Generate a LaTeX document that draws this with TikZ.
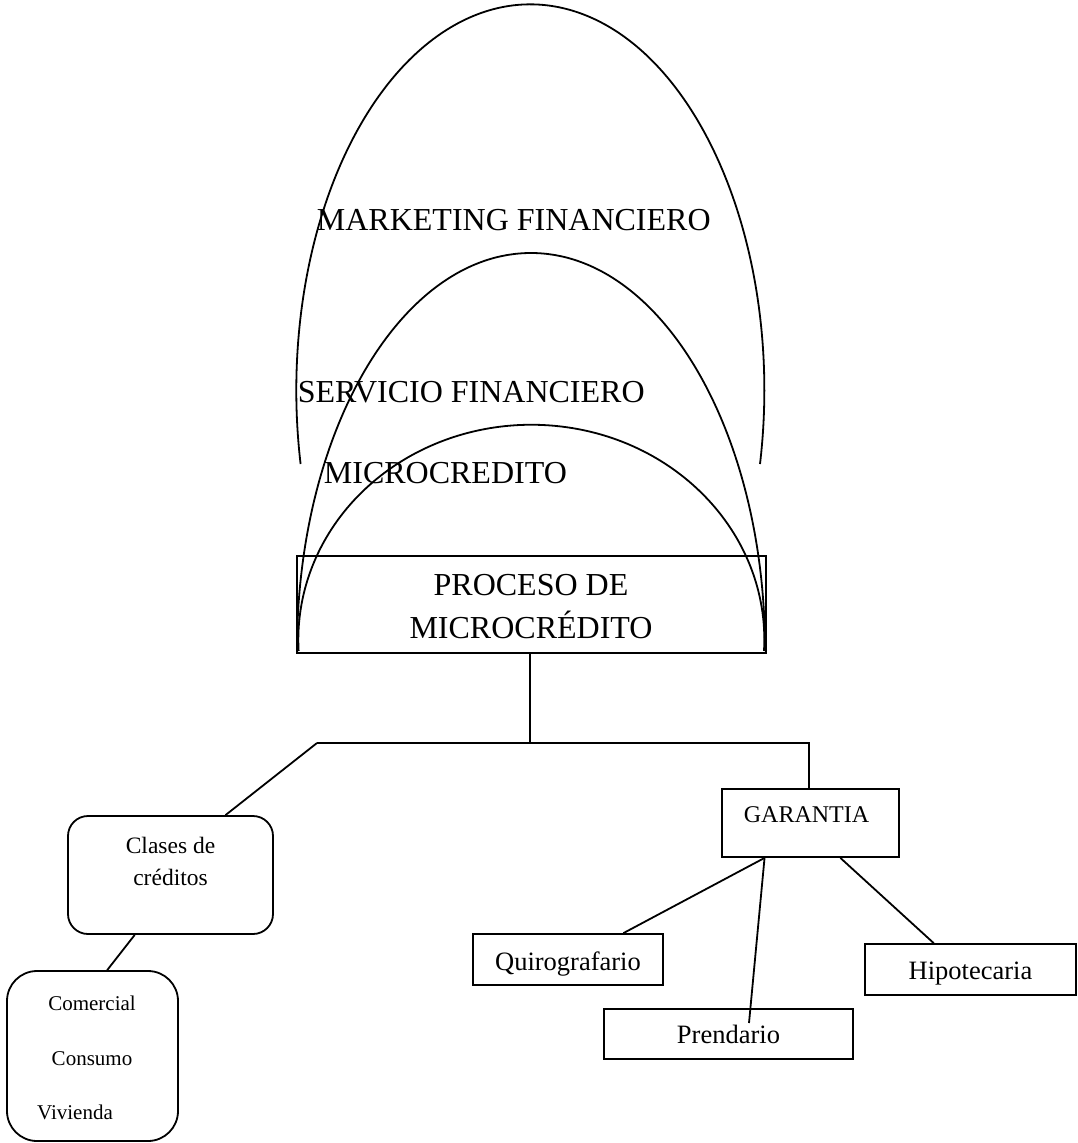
\documentclass[tikz,border=0pt]{standalone}
\usepackage{fontspec}
\setmainfont{Liberation Serif}
\usetikzlibrary{calc}
\begin{document}
\begin{tikzpicture}[x=1pt,y=1pt,line width=1.8pt,
  txt/.style={inner sep=0pt,anchor=base},
  big/.style={txt,font=\fontsize{32}{40}\selectfont},
  mid/.style={txt,font=\fontsize{26.5}{32}\selectfont},
  sml/.style={txt,font=\fontsize{23.5}{30}\selectfont},
  tiny/.style={txt,font=\fontsize{21}{26}\selectfont},
  sqbox/.style={draw,rectangle,inner sep=0pt},
  rbox/.style={draw,rectangle,rounded corners=#1,inner sep=0pt}]
\useasboundingbox (0,0) rectangle (1078,-1143);

% nested domains
\draw (760,-464) arc[start angle=-11,end angle=191,x radius=234pt,y radius=386pt];
\draw (765,-650) arc[start angle=0,end angle=180,x radius=234pt,y radius=397pt];
\draw (764,-651) arc[start angle=-3,end angle=183,x radius=233pt,y radius=215pt];

\node[big,anchor=base west] (mkt) at (316,-230) {MARKETING FINANCIERO};
\node[big,anchor=base west] (srv) at (297,-402) {SERVICIO FINANCIERO};
\node[big,anchor=base west] (mic) at (323,-483) {MICROCREDITO};

% process box
\node[sqbox,minimum width=469pt,minimum height=97pt] (proc) at (531.5,-604.5) {};
\node[big] (proc1) at (531,-595) {PROCESO DE};
\node[big] (proc2) at (531,-638) {MICROCRÉDITO};

% credit classes
\node[rbox=20pt,minimum width=205pt,minimum height=118pt] (clases) at (170.5,-875) {};
\node[sml] (clases1) at (170.5,-853) {Clases de};
\node[sml] (clases2) at (170.5,-885) {créditos};

\node[rbox=30pt,minimum width=171pt,minimum height=170pt] (tipos) at (92.5,-1056) {};
\node[tiny] (tipo1) at (92,-1010) {Comercial};
\node[tiny] (tipo2) at (92,-1065) {Consumo};
\node[tiny] (tipo3) at (75,-1119) {Vivienda};

% guarantees
\node[sqbox,minimum width=177pt,minimum height=68pt] (gar) at (810.5,-823) {};
\node[txt,anchor=base west,font=\fontsize{24}{30}\selectfont] (gartxt) at (743,-822) {GARANTIA};

\node[sqbox,minimum width=190pt,minimum height=51pt] (quiro) at (568,-959.5) {};
\node[mid] (quirotxt) at (568,-970) {Quirografario};

\node[sqbox,minimum width=249pt,minimum height=50pt] (prend) at (728.5,-1034) {};
\node[mid] (prendtxt) at (728.5,-1043) {Prendario};

\node[sqbox,minimum width=211pt,minimum height=51pt] (hipo) at (970.5,-969.5) {};
\node[mid] (hipotxt) at (970.5,-979) {Hipotecaria};

% tree connectors
\coordinate (fork) at (530,-743);
\coordinate (forkl) at (317,-743);
\coordinate (forkr) at (809,-743);
\coordinate (prendend) at (749,-1023);

\draw (proc.south -| fork) -- (fork);
\draw (forkl) -- (forkr) -- ($(gar.north west)!0.492!(gar.north east)$);
\draw (forkl) -- ($(clases.north west)!0.766!(clases.north east)$);
\draw ($(clases.south west)!0.327!(clases.south east)$) -- ($(tipos.north west)!0.585!(tipos.north east)$);
\draw ($(gar.south west)!0.243!(gar.south east)$) -- ($(quiro.north west)!0.789!(quiro.north east)$);
\draw ($(gar.south west)!0.243!(gar.south east)$) -- (prendend);
\draw ($(gar.south west)!0.667!(gar.south east)$) -- ($(hipo.north west)!0.327!(hipo.north east)$);
\end{tikzpicture}
\end{document}
